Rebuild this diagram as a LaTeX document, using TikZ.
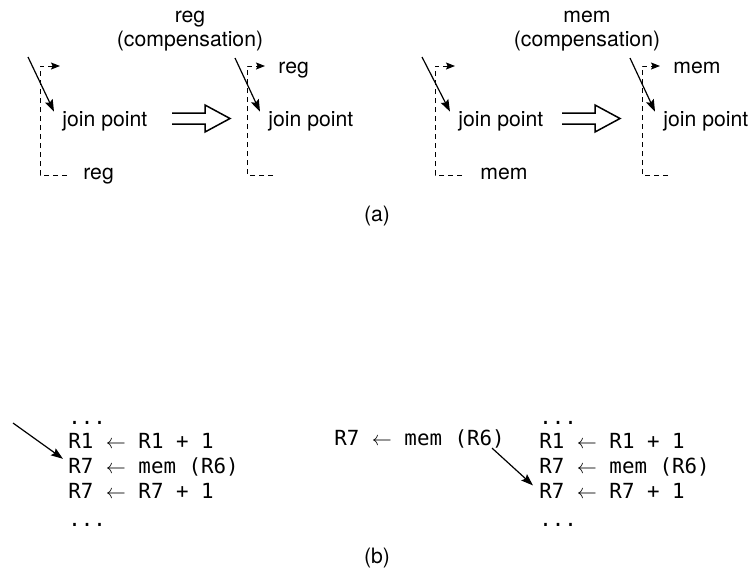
\documentclass[tikz,border=0pt]{standalone}
\usepackage{fontspec}
\setsansfont{TeX Gyre Heros}
\setmonofont{DejaVu Sans Mono}
\usetikzlibrary{arrows.meta}
\newcommand\codedots{...}
\tikzset{
  lbl/.style={font=\sffamily\fontsize{10.6}{12.7}\selectfont,
              inner sep=0pt, anchor=base west},
  ttl/.style={lbl, anchor=base},
  code/.style={font=\ttfamily\fontsize{10.4}{12.5}\selectfont,
               inner sep=0pt, anchor=base west},
  arr/.style={-{Stealth[length=6pt,width=4.2pt,inset=1pt]}, line width=0.6pt},
  darr/.style={-{Stealth[length=4.5pt,width=3.5pt,inset=0.8pt]}, line width=0.5pt,
               dash pattern=on 2.5pt off 2pt},
  impl/.style={line width=0.75pt},
}
\begin{document}
\begin{tikzpicture}[x=0.5pt,y=-0.5pt]
  \useasboundingbox (0,0) rectangle (755,569);
  % ---------- (a) ----------
  % join points
  \foreach \n/\x in {1/62, 2/268, 3/458, 4/663}
    \node[lbl] (jp\n) at (\x,126) {join point};
  % dashed brackets
  \foreach \x/\w/\t in {40/27/20, 247/26/18, 435/27/20, 642/26/18}
    \draw[darr] (\x+\w,175) -- (\x,175) -- (\x,66) -- (\x+\t,66);
  % incoming branches
  \coordinate (in1) at (28,57);
  \coordinate (in2) at (235,58);
  \coordinate (in3) at (422,57);
  \coordinate (in4) at (630,58);
  \foreach \n in {1,...,4}
    \draw[arr] (in\n) -- ([xshift=-4pt,yshift=-0.5pt]jp\n.north west);
  % location labels
  \node[lbl] (rbot) at (83,179) {reg};
  \node[lbl] (rtop) at (278,73) {reg};
  \node[lbl] (mbot) at (480,179) {mem};
  \node[lbl] (mtop) at (673,73) {mem};
  \node[ttl] (rttl) at (190,22) {reg};
  \node[ttl] (rcmp) at (190,46) {(compensation)};
  \node[ttl] (mttl) at (587,22) {mem};
  \node[ttl] (mcmp) at (587,46) {(compensation)};
  % transformation arrows
  \foreach \x in {172,562}
    \draw[impl] (\x,113) -- ++(33,0) -- ++(0,-8) -- ++(25,13.5)
                -- ++(-25,13.5) -- ++(0,-8) -- ++(-33,0);
  \node[ttl] (capa) at (377,221) {(a)};
  % ---------- (b) ----------
  \foreach \x/\s in {68/l, 539/r}
    \foreach \i/\y/\txt in {1/424/{\codedots},
                            2/448/{R1 $\leftarrow$ R1 + 1},
                            3/473/{R7 $\leftarrow$ mem (R6)},
                            4/498/{R7 $\leftarrow$ R7 + 1},
                            5/526/{\codedots}}
      \node[code] (\s\i) at (\x,\y) {\txt};
  \node[code] (hoist) at (334,445) {R7 $\leftarrow$ mem (R6)};
  \coordinate (entry) at (13,423);
  \draw[arr] (entry) -- ([xshift=-2.5pt,yshift=-1pt]l3.north west);
  \draw[arr] ([xshift=-6.5pt]hoist.south east) -- ([xshift=-3pt,yshift=-1.5pt]r4.north west);
  \node[ttl] (capb) at (377,563) {(b)};
\end{tikzpicture}
\end{document}
